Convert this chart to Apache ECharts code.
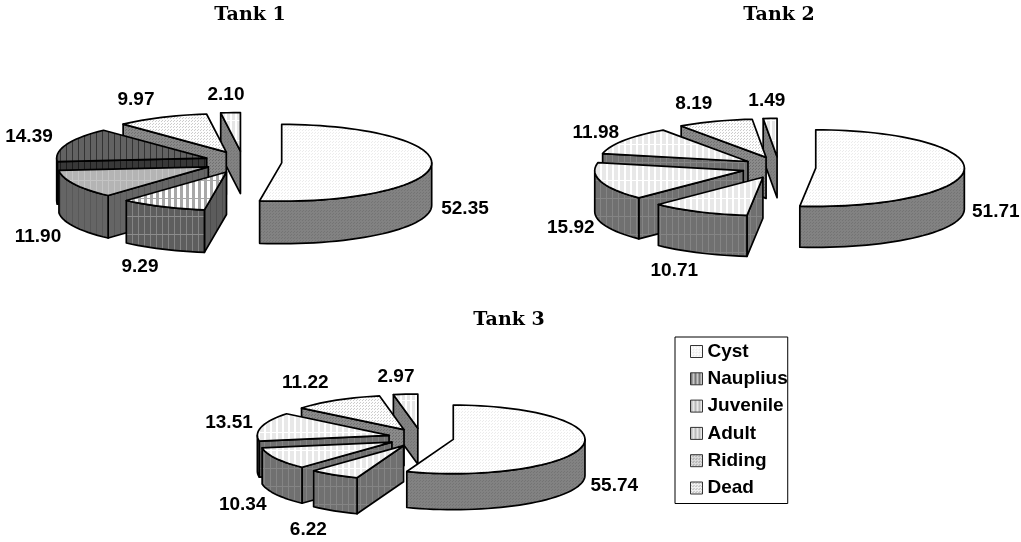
<!DOCTYPE html>
<html><head><meta charset="utf-8">
<script src="https://cdn.jsdelivr.net/npm/echarts@6/dist/echarts.min.js"></script>
<style>html,body{margin:0;padding:0;background:#fff}#c{width:1021px;height:542px}</style>
</head><body><div id="c"></div>
<script>
const categories = ['Cyst','Nauplius','Juvenile','Adult','Riding','Dead'];
const tank1Values = [52.35, 9.29, 11.90, 14.39, 9.97, 2.10];
const tank2Values = [51.71, 10.71, 15.92, 11.98, 8.19, 1.49];
const tank3Values = [55.74, 6.22, 10.34, 13.51, 11.22, 2.97];
const tankNames = ['Tank 1','Tank 2','Tank 3'];

// textures
function tile(w,h,draw){const c=document.createElement('canvas');c.width=w;c.height=h;const g=c.getContext('2d');draw(g);return {image:c,repeat:'repeat'};}
function dots(bg,dot){return tile(3,3,g=>{g.fillStyle=bg;g.fillRect(0,0,3,3);g.fillStyle=dot;g.fillRect(0,0,1,1);g.fillRect(2,1,1,1);});}
function stripes(bg,line,p,w,hp,hline){return tile(p,hp,g=>{g.fillStyle=bg;g.fillRect(0,0,p,hp);g.fillStyle=line;g.fillRect(0,0,w,hp);if(hline){g.fillStyle=hline;g.fillRect(0,0,p,1);}});}

const cystTop=dots('#ffffff','#ececec'), cystWall=dots('#828282','#747474');
const ridingTop=dots('#fdfdfd','#cccccc'), ridingWall=dots('#8a8a8a','#707070');
const deadTop=stripes('#e6e6e6','#ffffff',5,2,20,'#ffffff'), deadWall=dots('#828282','#747474');
const lightTop=stripes('#e8e8e8','#ffffff',6,2,18,'#ffffff');
const wallStripe=stripes('#707070','#848484',6,1,18,'#848484');
const styles1=[
 {top:cystTop,wall:cystWall,face:cystWall},
 {top:stripes('#ffffff','#a8a8a8',6,3,18,'#a8a8a8'),wall:stripes('#5e5e5e','#848484',6,1,18,'#8c8c8c'),face:stripes('#5c5c5c','#4c4c4c',6,1,18)},
 {top:stripes('#b4b4b4','#c4c4c4',6,1,18,'#c4c4c4'),wall:stripes('#656565','#585858',6,1,18),face:stripes('#656565','#585858',6,1,18)},
 {top:stripes('#626262','#333333',6,1,18),wall:stripes('#383838','#1c1c1c',6,1,18),face:stripes('#383838','#1c1c1c',6,1,18)},
 {top:ridingTop,wall:ridingWall,face:ridingWall},
 {top:deadTop,wall:deadWall,face:deadWall}
];
const styles2=[
 {top:cystTop,wall:cystWall,face:cystWall},
 {top:lightTop,wall:wallStripe,face:wallStripe},
 {top:lightTop,wall:wallStripe,face:wallStripe},
 {top:lightTop,wall:wallStripe,face:wallStripe},
 {top:ridingTop,wall:ridingWall,face:ridingWall},
 {top:deadTop,wall:deadWall,face:deadWall}
];
const pies=[
 {name:tankNames[0],values:tank1Values,styles:styles1,cx:243,cy:162,rx:150,ry:38.4,depth:42.5,ex:38.8,ey:11,
  labels:[[222,46.5],[-103,104.5],[-205,75],[-214,-25],[-107,-62.5],[-17,-67.5]]},
 {name:tankNames[1],values:tank2Values,styles:styles2,cx:778.8,cy:167.5,rx:148.6,ry:38.3,depth:41,ex:37,ey:10.8,
  labels:[[217,44.5],[-104.5,103],[-208,60.5],[-183,-35],[-85,-63.5],[-12,-66.5]]},
 {name:tankNames[2],values:tank3Values,styles:styles2,cx:420.9,cy:437.7,rx:131.7,ry:34.3,depth:36,ex:32.9,ey:9.4,
  labels:[[193.4,48.5],[-112.6,92.5],[-178.2,66.8],[-191.9,-15.2],[-115.6,-55],[-24.9,-61]]}
];

function rimPts(ax,ay,p,a,b,dy){const n=Math.max(2,Math.ceil((b-a)/3));const out=[];
 for(let i=0;i<=n;i++){const t=(a+(b-a)*i/n)*Math.PI/180;out.push([ax+p.rx*Math.sin(t),ay+dy-p.ry*Math.cos(t)]);}return out;}

function makeRender(p){
 const total=p.values.reduce((s,v)=>s+v,0);
 return function(params,api){
  const i=params.dataIndex, v=api.value(0);
  let acc=0; for(let k=0;k<i;k++)acc+=p.values[k];
  const a=acc/total*360, b=(acc+v)/total*360, mid=(a+b)/2, mr=mid*Math.PI/180;
  const ax=p.cx+p.ex*Math.sin(mr), ay=p.cy-p.ey*Math.cos(mr);
  const s=p.styles[i], line={stroke:'#000',lineWidth:1.7,lineJoin:'round'};
  const children=[];
  const sa=a*Math.PI/180, sb=b*Math.PI/180;
  const poly=(pts,fill)=>children.push({type:'polygon',shape:{points:pts},style:Object.assign({fill:fill},line),z2:10-i});
  // start cut face (left half of the pie)
  if(Math.sin(sa)<-1e-6){const x=ax+p.rx*Math.sin(sa),y=ay-p.ry*Math.cos(sa);
   poly([[ax,ay],[x,y],[x,y+p.depth],[ax,ay+p.depth]],s.face);}
  // end cut face (right half of the pie)
  if(Math.sin(sb)>1e-6){const x=ax+p.rx*Math.sin(sb),y=ay-p.ry*Math.cos(sb);
   poly([[ax,ay],[x,y],[x,y+p.depth],[ax,ay+p.depth]],s.face);}
  // outer wall
  const wa=Math.max(a,90), wb=Math.min(b,270);
  if(wb>wa){poly(rimPts(ax,ay,p,wa,wb,0).concat(rimPts(ax,ay,p,wa,wb,p.depth).reverse()),s.wall);}
  // top
  poly([[ax,ay]].concat(rimPts(ax,ay,p,a,b,0)),s.top);
  // value label
  const off=p.labels[i];
  children.push({type:'text',z2:50,style:{text:v.toFixed(2),x:p.cx+off[0],y:p.cy+off[1],
   align:'center',verticalAlign:'middle',fill:'#000',font:'bold 19px "Liberation Sans", Arial, sans-serif'}});
  return {type:'group',children:children};
 };
}

const legendFills=[dots('#ffffff','#d8d8d8'),stripes('#c8c8c8','#777777',4,2,12),stripes('#e8e8e8','#bbbbbb',4,2,12),
 stripes('#e8e8e8','#bbbbbb',4,2,12),dots('#e0e0e0','#888888'),dots('#f0f0f0','#aaaaaa')];

const series=pies.map(p=>({type:'custom',name:p.name,coordinateSystem:'none',silent:true,
  data:p.values.map((v,i)=>({name:categories[i],value:[v]})),renderItem:makeRender(p),animation:false}));
categories.forEach(c=>series.push({type:'custom',name:c,coordinateSystem:'none',data:[],renderItem:()=>null,silent:true}));

const chart=echarts.init(document.getElementById('c'),null,{renderer:'canvas'});
const titleFont={fontFamily:'"DejaVu Serif", serif',fontWeight:'bold',fontSize:19,color:'#000'};
chart.setOption({
 animation:false,backgroundColor:'#fff',
 title:[
  {text:tankNames[0],left:250,top:6,textAlign:'center',textStyle:titleFont,padding:0},
  {text:tankNames[1],left:779,top:6,textAlign:'center',textStyle:titleFont,padding:0},
  {text:tankNames[2],left:509,top:311,textAlign:'center',textStyle:titleFont,padding:0}
 ],
 legend:{orient:'vertical',left:675,top:337,padding:[5,0,6,15],itemWidth:12,itemHeight:12,itemGap:8.3,itemStyle:{borderColor:'#333',borderWidth:1},
  borderColor:'#000',borderWidth:1,selectedMode:false,icon:'rect',
  textStyle:{fontFamily:'"Liberation Sans", Arial, sans-serif',fontWeight:'bold',fontSize:19,lineHeight:19,color:'#000'},
  data:categories.map((c,i)=>({name:c,itemStyle:{color:legendFills[i],borderColor:'#333',borderWidth:1}}))},
 series:series
});
</script></body></html>
